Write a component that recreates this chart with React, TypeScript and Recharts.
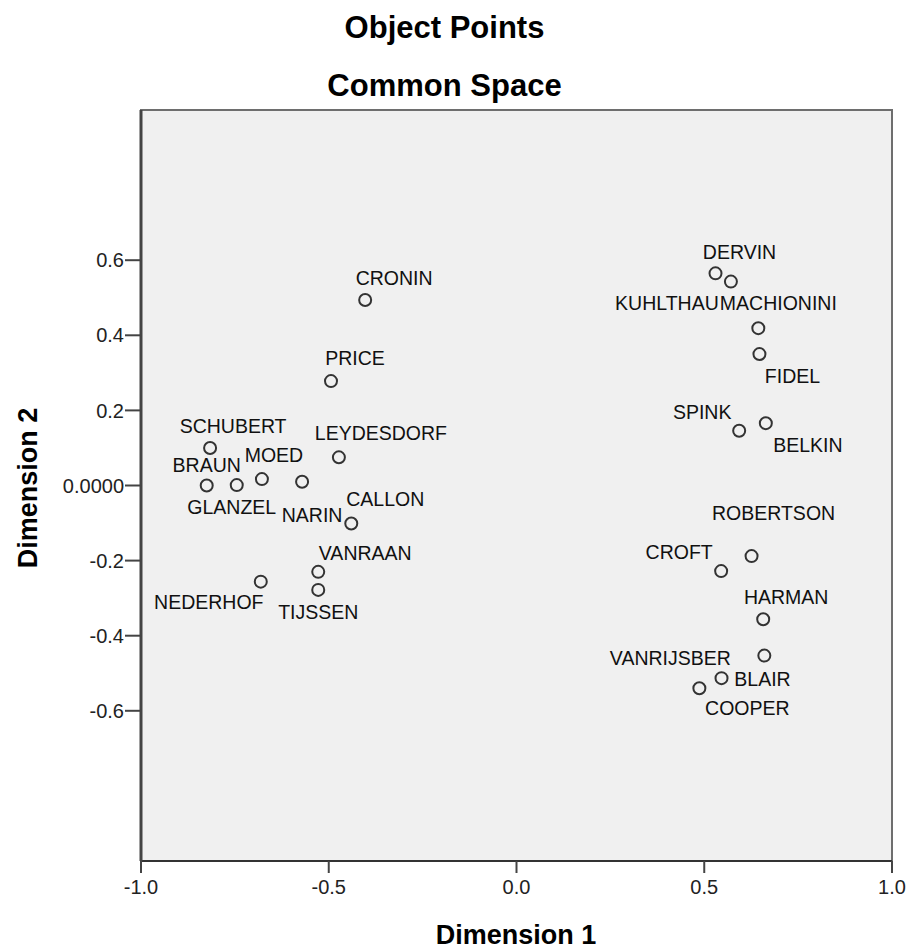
import React from "react";
import {
  ScatterChart,
  Scatter,
  XAxis,
  YAxis,
  ReferenceArea,
  Label,
} from "recharts";

// object names and their coordinates in the common space
const NAMES = [
  "CRONIN", "PRICE", "SCHUBERT", "BRAUN", "GLANZEL", "MOED", "NARIN",
  "LEYDESDORF", "CALLON", "NEDERHOF", "VANRAAN", "TIJSSEN",
  "DERVIN", "KUHLTHAU", "MACHIONINI", "FIDEL", "SPINK", "BELKIN",
  "ROBERTSON", "CROFT", "HARMAN", "VANRIJSBER", "BLAIR", "COOPER",
];
const DIM1 = [
  -0.403, -0.494, -0.816, -0.825, -0.745, -0.678, -0.571,
  -0.473, -0.44, -0.681, -0.528, -0.528,
  0.53, 0.571, 0.644, 0.647, 0.593, 0.664,
  0.626, 0.545, 0.657, 0.66, 0.546, 0.487,
];
const DIM2 = [
  0.494, 0.278, 0.1, 0.0, 0.001, 0.017, 0.01,
  0.075, -0.101, -0.256, -0.23, -0.278,
  0.565, 0.543, 0.419, 0.35, 0.146, 0.166,
  -0.188, -0.228, -0.356, -0.453, -0.513, -0.54,
];
const X_TICKS = [-1.0, -0.5, 0.0, 0.5, 1.0];
const Y_TICKS = [-0.6, -0.4, -0.2, 0.0, 0.2, 0.4, 0.6];

// where each label sits relative to its point (px)
const LABEL_OFFSET: Record<string, [number, number]> = {
  CRONIN: [29, -22],
  PRICE: [24, -23],
  SCHUBERT: [23, -22],
  BRAUN: [0, -21],
  GLANZEL: [-5, 22],
  MOED: [12, -24],
  NARIN: [10, 33],
  LEYDESDORF: [42, -24],
  CALLON: [34, -24],
  NEDERHOF: [-52, 20],
  VANRAAN: [47, -19],
  TIJSSEN: [0, 22],
  DERVIN: [24, -21],
  KUHLTHAU: [-64, 21],
  MACHIONINI: [20, -25],
  FIDEL: [33, 22],
  SPINK: [-37, -19],
  BELKIN: [42, 22],
  ROBERTSON: [22, -43],
  CROFT: [-42, -19],
  HARMAN: [23, -22],
  VANRIJSBER: [-94, 2],
  BLAIR: [41, 1],
  COOPER: [48, 20],
};

const FONT = "'Liberation Sans', Arial, sans-serif";

const points = NAMES.map((name, i) => ({ name, x: DIM1[i], y: DIM2[i] }));

const PointShape = (props: any) => {
  const { cx, cy, payload } = props;
  const [dx, dy] = LABEL_OFFSET[payload.name] || [0, -20];
  return (
    <g>
      <circle cx={cx} cy={cy} r={6} fill="none" stroke="#333" strokeWidth={2} />
      <text
        x={cx + dx}
        y={cy + dy}
        textAnchor="middle"
        dominantBaseline="central"
        fontFamily={FONT}
        fontSize={19.5}
        fill="#111"
      >
        {payload.name}
      </text>
    </g>
  );
};

const fmtY = (v: number) => (v === 0 ? "0.0000" : v.toFixed(1));

export default function App() {
  return (
    <div style={{ position: "absolute", left: 0, top: 0, background: "#fff" }}>
      <ScatterChart
        width={909}
        height={951}
        margin={{ top: 110, right: 17, bottom: 0, left: 0 }}
      >
        <ReferenceArea
          x1={-1}
          x2={1}
          y1={-1}
          y2={1}
          fill="#f0f0f0"
          fillOpacity={1}
          stroke="#6e6e6e"
          strokeWidth={2}
        />
        <XAxis
          type="number"
          dataKey="x"
          domain={[-1, 1]}
          ticks={X_TICKS}
          tickFormatter={(v: number) => v.toFixed(1)}
          height={90}
          tickSize={12}
          tickMargin={7}
          axisLine={{ stroke: "#333", strokeWidth: 2 }}
          tickLine={{ stroke: "#444", strokeWidth: 2 }}
          tick={{ fill: "#222", fontSize: 20, fontFamily: FONT }}
          allowDataOverflow
        >
          <Label
            content={() => (
              <text
                x={516}
                y={944}
                textAnchor="middle"
                fontFamily={FONT}
                fontWeight="bold"
                fontSize={27}
                fill="#000"
              >
                Dimension 1
              </text>
            )}
          />
        </XAxis>
        <YAxis
          type="number"
          dataKey="y"
          domain={[-1, 1]}
          ticks={Y_TICKS}
          tickFormatter={fmtY}
          width={141}
          tickSize={16}
          tickMargin={1}
          axisLine={{ stroke: "#444", strokeWidth: 3 }}
          tickLine={{ stroke: "#444", strokeWidth: 2 }}
          tick={{ fill: "#222", fontSize: 20, fontFamily: FONT }}
          allowDataOverflow
        >
          <Label
            content={() => (
              <text
                x={37}
                y={488}
                textAnchor="middle"
                transform="rotate(-90, 37, 488)"
                fontFamily={FONT}
                fontWeight="bold"
                fontSize={27}
                fill="#000"
              >
                Dimension 2
              </text>
            )}
          />
        </YAxis>
        <Scatter
          data={points}
          shape={PointShape}
          isAnimationActive={false}
        />
      </ScatterChart>
      <div
        style={{
          position: "absolute",
          left: 0,
          top: 0,
          width: 889,
          textAlign: "center",
          fontFamily: FONT,
          fontWeight: "bold",
          fontSize: 31,
          color: "#000",
          lineHeight: "36px",
        }}
      >
        <div style={{ position: "absolute", top: 10, width: "100%" }}>Object Points</div>
        <div style={{ position: "absolute", top: 68, width: "100%" }}>Common Space</div>
      </div>
    </div>
  );
}
